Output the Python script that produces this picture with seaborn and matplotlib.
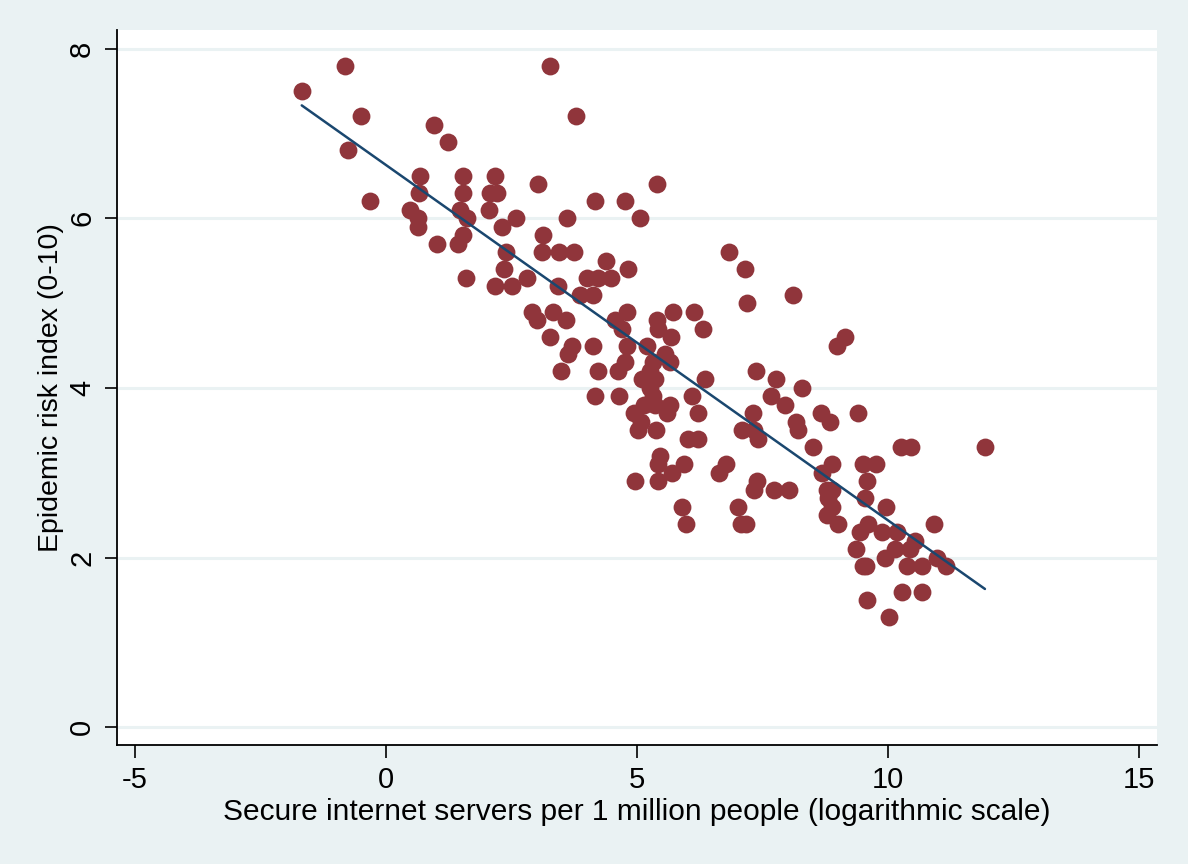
import numpy as np
import pandas as pd
import matplotlib
matplotlib.use("Agg")
import matplotlib.pyplot as plt
import seaborn as sns

# Secure internet servers per 1 million people (log scale) vs epidemic risk index
servers_log = [
    -1.68, -0.81, -0.50, -0.75, -0.32, 0.95, 1.23, 3.26, 3.78, 0.67,
    0.66, 0.48, 0.64, 0.64, 1.02, 1.54, 1.53, 1.47, 1.61, 1.54,
    1.44, 1.59, 2.16, 2.07, 2.20, 2.05, 2.30, 2.59, 3.02, 3.60,
    4.16, 3.13, 3.11, 3.44, 3.75, 2.39, 2.35, 2.17, 2.50, 2.81,
    3.43, 4.75, 5.40, 5.06, 4.38, 4.81, 4.00, 4.23, 4.48, 3.86,
    4.13, 2.91, 3.00, 3.33, 3.59, 3.27, 3.70, 3.63, 4.13, 3.49,
    4.23, 4.16, 4.64, 4.56, 4.79, 4.69, 4.79, 5.39, 5.42, 5.71,
    5.68, 5.19, 5.56, 5.66, 4.76, 4.63, 5.32, 5.09, 5.36, 5.26,
    5.26, 5.32, 5.13, 5.36, 6.84, 7.16, 7.20, 6.14, 6.31, 4.93,
    5.07, 5.01, 5.37, 5.66, 5.59, 6.09, 6.21, 6.36, 6.02, 6.21,
    5.46, 5.41, 5.69, 5.94, 4.96, 5.42, 5.89, 5.98, 6.78, 6.64,
    7.37, 7.76, 7.66, 7.30, 7.09, 7.32, 7.40, 7.38, 7.32, 7.72,
    7.02, 7.07, 7.17, 8.11, 9.14, 8.98, 8.28, 7.95, 8.66, 9.41,
    8.84, 8.17, 8.21, 8.50, 10.25, 10.45, 11.93, 8.88, 8.68, 9.51,
    9.76, 8.03, 9.59, 8.79, 8.89, 8.81, 8.88, 8.78, 9.00, 9.54,
    9.96, 9.61, 9.44, 9.87, 10.17, 10.54, 10.92, 9.37, 10.14, 10.44,
    9.94, 10.97, 11.16, 10.38, 10.67, 9.50, 9.57, 10.27, 10.67, 9.58,
    10.01,
]
risk_index = [
    7.5, 7.8, 7.2, 6.8, 6.2, 7.1, 6.9, 7.8, 7.2, 6.5,
    6.3, 6.1, 6.0, 5.9, 5.7, 6.5, 6.3, 6.1, 6.0, 5.8,
    5.7, 5.3, 6.5, 6.3, 6.3, 6.1, 5.9, 6.0, 6.4, 6.0,
    6.2, 5.8, 5.6, 5.6, 5.6, 5.6, 5.4, 5.2, 5.2, 5.3,
    5.2, 6.2, 6.4, 6.0, 5.5, 5.4, 5.3, 5.3, 5.3, 5.1,
    5.1, 4.9, 4.8, 4.9, 4.8, 4.6, 4.5, 4.4, 4.5, 4.2,
    4.2, 3.9, 3.9, 4.8, 4.9, 4.7, 4.5, 4.8, 4.7, 4.9,
    4.6, 4.5, 4.4, 4.3, 4.3, 4.2, 4.3, 4.1, 4.1, 4.2,
    4.0, 3.9, 3.8, 3.8, 5.6, 5.4, 5.0, 4.9, 4.7, 3.7,
    3.6, 3.5, 3.5, 3.8, 3.7, 3.9, 3.7, 4.1, 3.4, 3.4,
    3.2, 3.1, 3.0, 3.1, 2.9, 2.9, 2.6, 2.4, 3.1, 3.0,
    4.2, 4.1, 3.9, 3.7, 3.5, 3.5, 3.4, 2.9, 2.8, 2.8,
    2.6, 2.4, 2.4, 5.1, 4.6, 4.5, 4.0, 3.8, 3.7, 3.7,
    3.6, 3.6, 3.5, 3.3, 3.3, 3.3, 3.3, 3.1, 3.0, 3.1,
    3.1, 2.8, 2.9, 2.8, 2.8, 2.7, 2.6, 2.5, 2.4, 2.7,
    2.6, 2.4, 2.3, 2.3, 2.3, 2.2, 2.4, 2.1, 2.1, 2.1,
    2.0, 2.0, 1.9, 1.9, 1.9, 1.9, 1.9, 1.6, 1.6, 1.5,
    1.3,
]

df = pd.DataFrame({"servers": servers_log, "risk": risk_index})

bg = "#EAF2F3"
marker_col = "#90353B"
line_col = "#1A476F"

sns.set_theme(style="white")
plt.rcParams["font.family"] = ["Liberation Sans", "DejaVu Sans"]
plt.rcParams["axes.unicode_minus"] = False

fig = plt.figure(figsize=(11.88, 8.64), dpi=100, facecolor=bg)
ax = fig.add_axes([0.0985, 0.1377, 0.8755, 0.8276])
ax.set_facecolor("white")

sns.scatterplot(data=df, x="servers", y="risk", ax=ax, color=marker_col,
                s=165, edgecolor=marker_col, linewidth=0, zorder=3)
sns.regplot(data=df, x="servers", y="risk", ax=ax, scatter=False, ci=None,
            truncate=True, line_kws={"color": line_col, "lw": 1.8, "zorder": 4})

ax.set_xlim(-5.36, 15.36)
ax.set_ylim(-0.21, 8.22)
ax.set_xticks([-5, 0, 5, 10, 15])
ax.set_yticks([0, 2, 4, 6, 8])
ax.yaxis.grid(True, color=bg, lw=2.2, zorder=0)
ax.xaxis.grid(False)
ax.set_axisbelow(True)

for side in ["top", "right"]:
    ax.spines[side].set_visible(False)
for side in ["left", "bottom"]:
    ax.spines[side].set_color("black")
    ax.spines[side].set_linewidth(1.3)

ax.tick_params(axis="both", which="major", direction="out", length=9, width=1.2,
               color="black", labelsize=21, labelcolor="black", pad=6,
               left=True, bottom=True)
for lab in ax.get_yticklabels():
    lab.set_rotation(90)
    lab.set_va("center")

ax.set_xlabel("Secure internet servers per 1 million people (logarithmic scale)",
              fontsize=21.5, color="black", labelpad=3)
ax.set_ylabel("Epidemic risk index (0-10)", fontsize=20.5, color="black", labelpad=3)

fig.savefig("out.png", dpi=100, facecolor=bg)
